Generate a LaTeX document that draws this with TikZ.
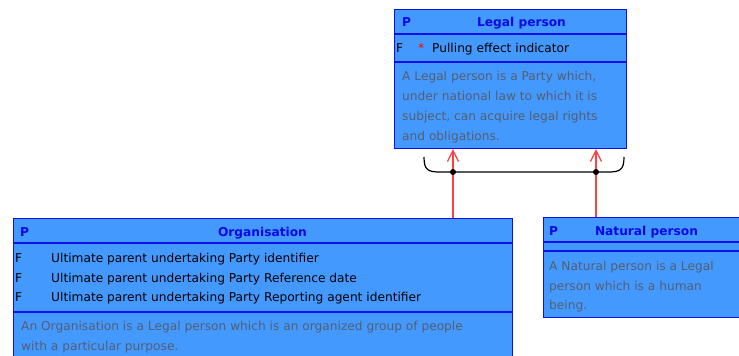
\documentclass[tikz,border=0pt]{standalone}
\usepackage{fontspec}
\setmainfont{DejaVu Sans}
\usetikzlibrary{arrows.meta}
\definecolor{classfill}{RGB}{68,153,255}
\definecolor{classedge}{RGB}{16,16,235}
\definecolor{titleblue}{RGB}{8,8,230}
\definecolor{notegray}{RGB}{84,94,112}
\definecolor{genred}{RGB}{255,64,64}

\begin{document}
\begin{tikzpicture}[x=1pt,y=-1pt,
  classbox/.style={draw=classedge, line width=1.2pt, fill=classfill, inner sep=0pt, anchor=north west},
  sepline/.style={draw=classedge, line width=1.6pt},
  lbl/.style={inner sep=0pt, anchor=west, font=\fontsize{12.2}{14}\selectfont, text height=9pt, text depth=2.5pt},
  title/.style={lbl, font=\bfseries\fontsize{12.2}{14}\selectfont, text=titleblue},
  attr/.style={lbl, text=black},
  note/.style={lbl, text=notegray},
  star/.style={lbl, text=red},
  gen/.style={draw=genred, line width=1.2pt, -{Straight Barb[length=11pt,width=11pt]}},
  brace/.style={draw=black, line width=1.2pt},
  dot/.style={circle, fill=black, inner sep=0pt, minimum size=6pt}
]
\clip (0,0) rectangle (739,356);

% ---- Legal person ----
\node[classbox, minimum width=232pt, minimum height=139pt] (legal) at (394,9) {};
\draw[sepline] ([yshift=-25pt]legal.north west) -- ([yshift=-25pt]legal.north east);
\draw[sepline] ([yshift=-53pt]legal.north west) -- ([yshift=-53pt]legal.north east);
\node[title] (legalP) at (402,23) {P};
\node[title, anchor=center] (legalT) at (521.5,23) {Legal person};
\node[attr] (legalF) at (396,49) {F};
\node[star] (legalS) at (418,49) {*};
\node[attr] (legalA) at (432,49) {Pulling effect indicator};
\node[note] (legalD1) at (402,77) {A Legal person is a Party which,};
\node[note] (legalD2) at (402,97) {under national law to which it is};
\node[note] (legalD3) at (402,117) {subject, can acquire legal rights};
\node[note] (legalD4) at (402,137) {and obligations.};

% ---- Organisation ----
\node[classbox, minimum width=499pt, minimum height=160pt] (org) at (13,218) {};
\draw[sepline] ([yshift=-25pt]org.north west) -- ([yshift=-25pt]org.north east);
\draw[sepline] ([yshift=-94pt]org.north west) -- ([yshift=-94pt]org.north east);
\node[title] (orgP) at (20,233) {P};
\node[title, anchor=center] (orgT) at (262.5,233) {Organisation};
\node[attr] (orgF1) at (15,259) {F};
\node[attr] (orgA1) at (51,259) {Ultimate parent undertaking Party identifier};
\node[attr] (orgF2) at (15,279) {F};
\node[attr] (orgA2) at (51,279) {Ultimate parent undertaking Party Reference date};
\node[attr] (orgF3) at (15,298) {F};
\node[attr] (orgA3) at (51,298) {Ultimate parent undertaking Party Reporting agent identifier};
\node[note] (orgD1) at (21,327) {An Organisation is a Legal person which is an organized group of people};
\node[note] (orgD2) at (21,347) {with a particular purpose.};

% ---- Natural person ----
\node[classbox, minimum width=220pt, minimum height=100pt] (nat) at (543,217) {};
\draw[sepline] ([yshift=-25pt]nat.north west) -- ([yshift=-25pt]nat.north east);
\draw[sepline] ([yshift=-34pt]nat.north west) -- ([yshift=-34pt]nat.north east);
\node[title] (natP) at (549,232) {P};
\node[title, anchor=center] (natT) at (646.5,232) {Natural person};
\node[note] (natD1) at (549,267) {A Natural person is a Legal};
\node[note] (natD2) at (549,287) {person which is a human};
\node[note] (natD3) at (549,306) {being.};

% ---- generalisation set ----
\coordinate (ax1) at (453,0);
\coordinate (ax2) at (596,0);
\draw[gen] (org.north -| ax1) -- (legal.south -| ax1);
\draw[gen] (nat.north -| ax2) -- (legal.south -| ax2);
\coordinate (bl) at (424,157);
\coordinate (br) at (624,157);
\draw[brace] (bl) .. controls (424,170) and (428,172) .. (440,172) -- (608,172)
  .. controls (620,172) and (624,170) .. (br);
\node[dot] (j1) at (453,172) {};
\node[dot] (j2) at (596,172) {};
\end{tikzpicture}
\end{document}
